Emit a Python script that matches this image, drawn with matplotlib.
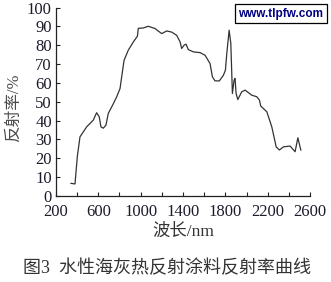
import matplotlib
matplotlib.use("Agg")
import matplotlib.pyplot as plt

plt.rcParams['font.family'] = ['Liberation Serif', 'Noto Sans CJK SC', 'DejaVu Sans']

wavelength = [342, 380, 402, 427, 490, 553, 584, 609, 625, 647, 672, 694, 742, 773, 805,
              820, 843, 883, 931, 969, 978, 1025, 1072, 1135, 1198, 1246, 1293, 1340, 1372,
              1387, 1409, 1428, 1450, 1498, 1561, 1608, 1655, 1677, 1702, 1743, 1781, 1800,
              1813, 1835, 1851, 1866, 1882, 1891, 1901, 1917, 1954, 1986, 2049, 2096, 2121,
              2134, 2191, 2238, 2279, 2310, 2348, 2411, 2458, 2484, 2512]
reflectance = [6.7, 6.4, 21, 31.4, 36.7, 40.3, 44.2, 42, 36.7, 36, 37.6, 43.8, 49, 52.6, 57,
               63, 72, 77.4, 81.8, 84.8, 89, 89.2, 90.1, 88.9, 86.2, 87.6, 87, 85.3, 81.8,
               78.3, 80, 80.6, 77.7, 76.5, 76.1, 74.7, 70.3, 63.3, 61.1, 61.1, 64.1, 66.8,
               75.6, 88, 81, 54.4, 61.5, 62.4, 54.4, 51.2, 55.3, 56.2, 53.5, 52.7, 50.9,
               47.7, 44.7, 36.7, 26.1, 24.4, 26.1, 26.5, 23.5, 30.9, 24.4]

x_ticks = list(range(200, 2601, 200))
x_labels = ['200', '', '600', '', '1000', '', '1400', '', '1800', '', '2200', '', '2600']
y_ticks = list(range(0, 101, 10))

text_color = '#1c1c2c'
cjk = ['Liberation Serif', 'Noto Sans CJK SC']

fig = plt.figure(figsize=(3.31, 2.82), dpi=100)
ax = fig.add_axes([0.169, 0.305, 0.768, 0.668])
ax.plot(wavelength, reflectance, color='#333333', lw=0.9)
ax.set_xlim(200, 2600)
ax.set_ylim(0, 100)
ax.set_xticks(x_ticks)
ax.set_xticklabels(x_labels)
ax.set_yticks(y_ticks)
for s in ['top', 'right']:
    ax.spines[s].set_visible(False)
for s in ['left', 'bottom']:
    ax.spines[s].set_linewidth(0.9)
    ax.spines[s].set_color('#222222')
ax.tick_params(direction='in', length=3, width=0.8, colors='#222222',
               labelsize=12, labelcolor=text_color)
ax.tick_params(axis='x', pad=5.5)
ax.tick_params(axis='y', pad=3)
ax.set_xlabel('波长/nm', fontsize=12.5, color='#333333', labelpad=3, family=cjk)
ax.set_ylabel('反射率/%', fontsize=12, color='#4a4a4a', family=cjk)
ax.yaxis.set_label_coords(-0.135, 0.47)

fig.text(0.505, 0.05, '图3  水性海灰热反射涂料反射率曲线', ha='center', va='center',
         fontsize=13, color='#333333', family=cjk)
fig.text(0.849, 0.952, 'www.tlpfw.com', ha='center', va='center', fontsize=8.5,
         color='#000080', weight='bold', family='Liberation Sans',
         bbox=dict(boxstyle='square,pad=0.3', fc='white', ec='black', lw=0.9))

fig.savefig('out.png', dpi=100)
